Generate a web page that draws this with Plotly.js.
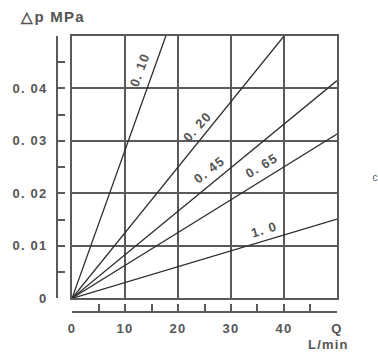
<!DOCTYPE html>
<html>
<head>
<meta charset="utf-8">
<script src="https://cdn.plot.ly/plotly-3.0.1.min.js"></script>
<style>
html,body{margin:0;padding:0;background:#fff;}
#chart{width:378px;height:358px;}
#chart text{letter-spacing:1.2px;}
</style>
</head>
<body>
<div id="chart"></div>
<script>
// Data
const seriesLabels = ['0. 10', '0. 20', '0. 45', '0. 65', '1. 0'];
const seriesX = [[0, 17.7], [0, 40.0], [0, 50], [0, 50], [0, 50]];
const seriesY = [[0, 0.05], [0, 0.05], [0, 0.0415], [0, 0.0313], [0, 0.0151]];
const xTickVals = [0, 10, 20, 30, 40, 50];
const xTickText = ['0', '10', '20', '30', '40', 'Q'];
const yTickVals = [0, 0.01, 0.02, 0.03, 0.04];
const yTickText = ['0', '0. 01', '0. 02', '0. 03', '0. 04'];

// Label placement (layout only)
const labelPos = [
  {x: 12.8, y: 0.0436, a: -70},
  {x: 23.7, y: 0.0327, a: -48},
  {x: 26.0, y: 0.0245, a: -38},
  {x: 35.8, y: 0.0254, a: -31},
  {x: 36.3, y: 0.0132, a: -17}
];

const ink = '#5a5a5a';
const fam = 'Liberation Sans, Arial, sans-serif';
const lblFont = {family: fam, size: 13, color: '#555', weight: 'bold'};

const traces = seriesLabels.map((name, i) => ({
  x: seriesX[i], y: seriesY[i], type: 'scatter', mode: 'lines', name: name,
  line: {color: '#2e2e2e', width: 1.3}, hoverinfo: 'skip', xaxis: 'x', yaxis: 'y'
}));
traces.push({x: [0], y: [0], xaxis: 'x2', yaxis: 'y2', mode: 'markers', marker: {opacity: 0}, hoverinfo: 'skip'});

const annotations = seriesLabels.map((t, i) => ({
  x: labelPos[i].x, y: labelPos[i].y, xref: 'x', yref: 'y', text: t, showarrow: false,
  textangle: labelPos[i].a, font: lblFont
}));
annotations.push({x: -0.125, y: 1.069, xref: 'paper', yref: 'paper', xanchor: 'left', yanchor: 'middle',
  text: '△p MPa', showarrow: false, font: {family: fam, size: 15, color: '#555', weight: 'bold'}});
annotations.push({x: 0.968, y: -0.116, xref: 'paper', yref: 'paper', xanchor: 'center', yanchor: 'middle',
  text: 'L/min', showarrow: false, font: lblFont});
annotations.push({x: 1.136, y: 0.489, xref: 'paper', yref: 'paper', xanchor: 'center', yanchor: 'middle',
  text: 'c', showarrow: false, font: {family: fam, size: 10, color: '#555'}});

const layout = {
  width: 378, height: 358,
  margin: {l: 57, r: 41, t: 36, b: 46, pad: 0},
  paper_bgcolor: '#fff', plot_bgcolor: '#fff',
  showlegend: false,
  xaxis: {
    domain: [0.0536, 1], range: [0, 50], anchor: 'y',
    showgrid: true, gridcolor: ink, gridwidth: 2, dtick: 10, tick0: 0,
    showline: true, linecolor: ink, linewidth: 2, mirror: true,
    zeroline: false, showticklabels: false, ticks: ''
  },
  yaxis: {
    domain: [0.0496, 1], range: [0, 0.05], anchor: 'x',
    showgrid: true, gridcolor: ink, gridwidth: 2, dtick: 0.01, tick0: 0,
    showline: true, linecolor: ink, linewidth: 2, mirror: true,
    zeroline: false, showticklabels: false, ticks: ''
  },
  xaxis2: {
    overlaying: 'x', anchor: 'free', position: 0, range: [0, 50],
    tickmode: 'array', tickvals: xTickVals, ticktext: xTickText,
    ticks: 'inside', ticklen: 7, tickwidth: 2, tickcolor: ink,
    minor: {dtick: 5, tick0: 0, ticks: 'inside', ticklen: 7, tickwidth: 2, tickcolor: ink},
    showline: true, linecolor: ink, linewidth: 2, showgrid: false, zeroline: false,
    tickfont: lblFont, ticklabelstandoff: 4
  },
  yaxis2: {
    overlaying: 'y', anchor: 'free', position: 0, range: [0, 0.05],
    tickmode: 'array', tickvals: yTickVals, ticktext: yTickText,
    ticks: 'inside', ticklen: 7, tickwidth: 2, tickcolor: ink,
    minor: {dtick: 0.005, tick0: 0, ticks: 'inside', ticklen: 7, tickwidth: 2, tickcolor: ink},
    showline: true, linecolor: ink, linewidth: 2, showgrid: false, zeroline: false,
    tickfont: lblFont, ticklabelstandoff: 6
  },
  annotations: annotations
};

Plotly.newPlot('chart', traces, layout, {displayModeBar: false, staticPlot: true});
</script>
</body>
</html>
